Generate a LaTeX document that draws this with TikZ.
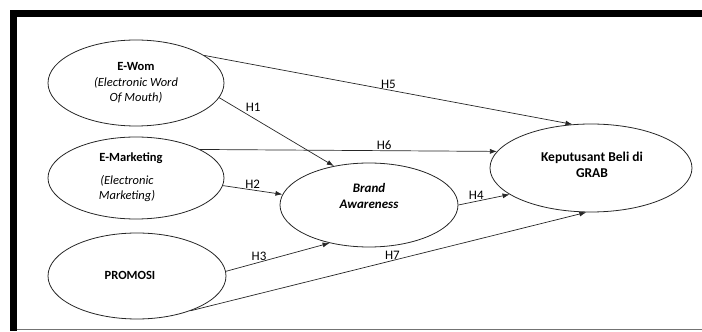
\documentclass[tikz,border=0pt]{standalone}
\usepackage{fontspec}
\setmainfont{Carlito}
\usetikzlibrary{shapes.geometric,arrows.meta}
\begin{document}
\begin{tikzpicture}[x=1pt,y=1pt,
  var/.style={draw=black!85,line width=0.8pt,ellipse,inner sep=0pt,align=center,
    font=\fontsize{12.5}{15}\selectfont,text=black},
  txt/.style={font=\fontsize{12.5}{15}\selectfont,text=black,align=center,inner sep=0pt},
  conn/.style={draw=black!85,line width=0.7pt,-{Latex[length=7pt,width=5pt]}},
  hlab/.style={font=\fontsize{13}{15}\selectfont,text=black,inner sep=1pt}]
\useasboundingbox (0,0) rectangle (702,332);
% frame
\fill[black] (10,322) rectangle (702,315);
\fill[black] (10,322) rectangle (17,1);
\draw[black!55,line width=1pt] (17,2) -- (702,2);
% variables
\node[var,minimum width=176pt,minimum height=86pt] (ewom) at (136,249)
  {\textbf{E-Wom}\\[1pt]\textit{(Electronic Word}\\\textit{Of Mouth)}};
\node[var,minimum width=176pt,minimum height=82pt] (emkt) at (136,154) {};
\node[txt,font=\fontsize{12.5}{15}\selectfont\bfseries] (emktt) at (131,174) {E-Marketing};
\node[txt,font=\fontsize{12.5}{15}\selectfont\itshape] (emkti) at (127,143) {(Electronic\\Marketing)};
\node[var,minimum width=178pt,minimum height=86pt] (promo) at (137,56) {};
\node[txt,font=\fontsize{12.5}{15}\selectfont\bfseries] (promot) at (130,57) {PROMOSI};
\node[var,minimum width=178pt,minimum height=84pt] (brand) at (369,127) {};
\node[txt,font=\fontsize{13}{16.5}\selectfont\bfseries\itshape] (brandt) at (369,136) {Brand\\Awareness};
\node[var,minimum width=202pt,minimum height=88pt] (kep) at (591,164) {};
\node[txt,font=\fontsize{13.5}{16.5}\selectfont\bfseries] (kept) at (592,167) {Keputusant Beli di\\GRAB};
% connectors
\draw[conn] (ewom.22) -- (kep.113) node[hlab,pos=0.5,above] (h5) {H5};
\draw[conn] (ewom.-10) -- (brand.132) node[hlab,pos=0.22,above right] (h1) {H1};
\draw[conn] (emkt.24) -- (kep.170) node[hlab,pos=0.62,above] (h6) {H6};
\draw[conn] (emkt.-5) -- (brand.173) node[hlab,pos=0.5,above] (h2) {H2};
\draw[conn] (promo.3) -- (brand.-136) node[hlab,pos=0.32,above] (h3) {H3};
\draw[conn] (brand.0) -- (kep.-162) node[hlab,pos=0.35,above] (h4) {H4};
\draw[conn] (promo.-33) -- (kep.-96) node[hlab,pos=0.51,above] (h7) {H7};
\end{tikzpicture}
\end{document}
